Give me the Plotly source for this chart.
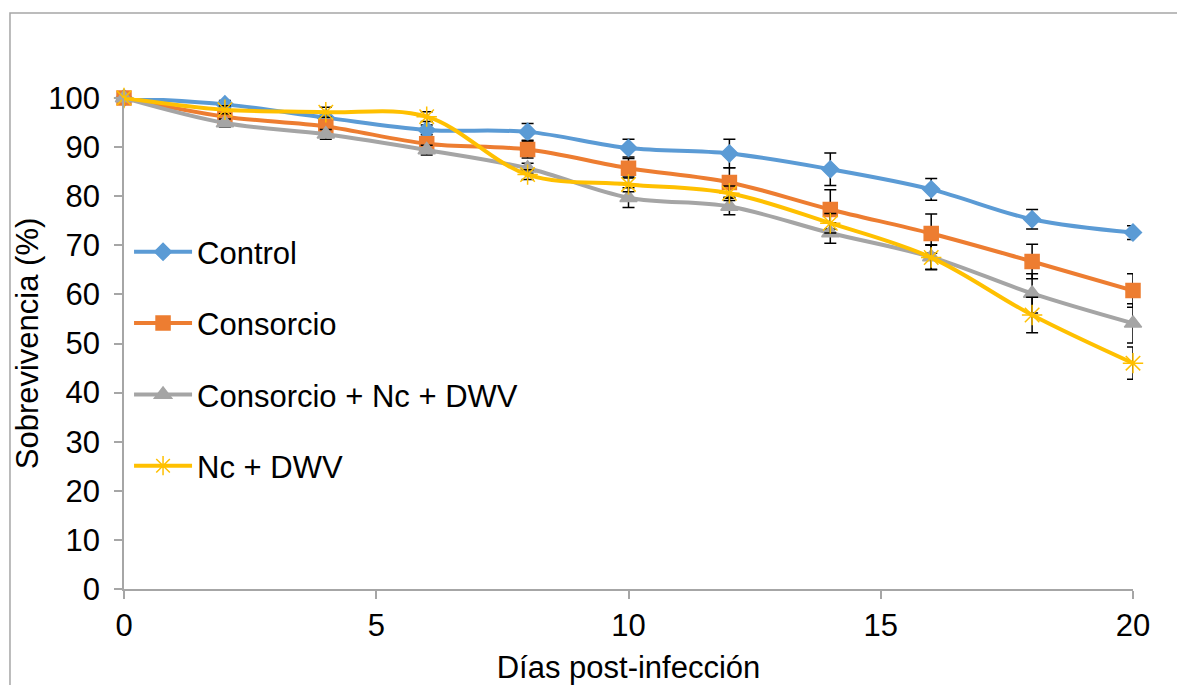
import plotly.graph_objects as go

# Survival over days post-infection, mean ± error per treatment
dias = [0, 2, 4, 6, 8, 10, 12, 14, 16, 18, 20]

control = [100, 98.7, 96.0, 93.5, 93.1, 89.8, 88.7, 85.5, 81.4, 75.3, 72.6]
control_err = [0, 0.8, 1.2, 1.0, 1.7, 1.8, 2.9, 3.3, 2.2, 2.0, 1.4]

consorcio = [100, 96.2, 94.2, 90.7, 89.5, 85.7, 82.8, 77.3, 72.4, 66.7, 60.8]
consorcio_err = [0, 0.8, 1.0, 1.0, 1.7, 2.0, 3.0, 4.0, 4.0, 3.5, 3.4]

cons_nc_dwv = [100, 94.9, 92.6, 89.4, 85.7, 79.7, 77.9, 72.5, 67.6, 60.2, 54.1]
cons_nc_dwv_err = [0, 0.8, 1.0, 1.0, 1.0, 2.0, 1.7, 2.1, 2.5, 4.0, 4.0]

nc_dwv = [100, 97.6, 97.1, 96.2, 84.4, 82.4, 80.6, 74.5, 67.5, 55.8, 46.0]
nc_dwv_err = [0, 0.8, 1.0, 1.0, 1.0, 1.5, 1.5, 2.0, 2.5, 3.6, 3.3]

series = [
    ("Control", control, control_err, "#5B9BD5", "diamond", 13),
    ("Consorcio", consorcio, consorcio_err, "#ED7D31", "square", 14),
    ("Consorcio + Nc + DWV", cons_nc_dwv, cons_nc_dwv_err, "#A5A5A5", "triangle-up", 15),
    ("Nc + DWV", nc_dwv, nc_dwv_err, "#FFC000", "asterisk-open", 17),
]

FONT = "Liberation Sans, Arial, sans-serif"
FS = 31

fig = go.Figure()
for i, (name, vals, errs, color, symbol, msize) in enumerate(series):
    fig.add_trace(go.Scatter(
        x=dias, y=vals, name=name, mode="lines+markers",
        legendgroup=f"g{i}",
        line=dict(color=color, width=4, shape="spline", smoothing=1),
        marker=dict(symbol=symbol, size=msize, color=color,
                    line=dict(color=color, width=1.5)),
        error_y=dict(type="data", array=errs, visible=True,
                     color="black", thickness=1.5, width=6),
        cliponaxis=False,
    ))

# Chart-area frame (left and top edges)
fig.add_shape(type="rect", xref="paper", yref="paper",
              x0=-0.113, x1=1.1, y0=-0.3, y1=1.173,
              line=dict(color="#A6A6A6", width=1.5), fillcolor="rgba(0,0,0,0)",
              layer="below")

fig.update_layout(
    width=1177, height=685,
    margin=dict(l=124, r=44, t=98, b=96),
    paper_bgcolor="white", plot_bgcolor="white",
    font=dict(family=FONT, size=FS, color="black"),
    showlegend=True,
    legend=dict(x=0.005, y=0.741, xanchor="left", yanchor="top",
                bgcolor="rgba(0,0,0,0)", tracegroupgap=28,
                font=dict(family=FONT, size=FS, color="black"),
                itemwidth=58),
    xaxis=dict(range=[0, 20], tickvals=[0, 5, 10, 15, 20],
               showline=True, linecolor="#A6A6A6", linewidth=1.5,
               ticks="outside", tickcolor="#A6A6A6", ticklen=8, tickwidth=1.5,
               showgrid=False, zeroline=False, automargin=False,
               tickfont=dict(family=FONT, size=FS),
               title=dict(text="Días post-infección", standoff=18,
                          font=dict(family=FONT, size=FS))),
    yaxis=dict(range=[0, 100], tickvals=list(range(0, 101, 10)),
               showline=True, linecolor="#A6A6A6", linewidth=1.5,
               ticks="outside", tickcolor="#A6A6A6", ticklen=8, tickwidth=1.5,
               ticklabelstandoff=8, automargin=False,
               showgrid=False, zeroline=False,
               tickfont=dict(family=FONT, size=FS),
               title=dict(text="Sobrevivencia (%)", standoff=0,
                          font=dict(family=FONT, size=FS))),
)

fig.write_html("out.html")
